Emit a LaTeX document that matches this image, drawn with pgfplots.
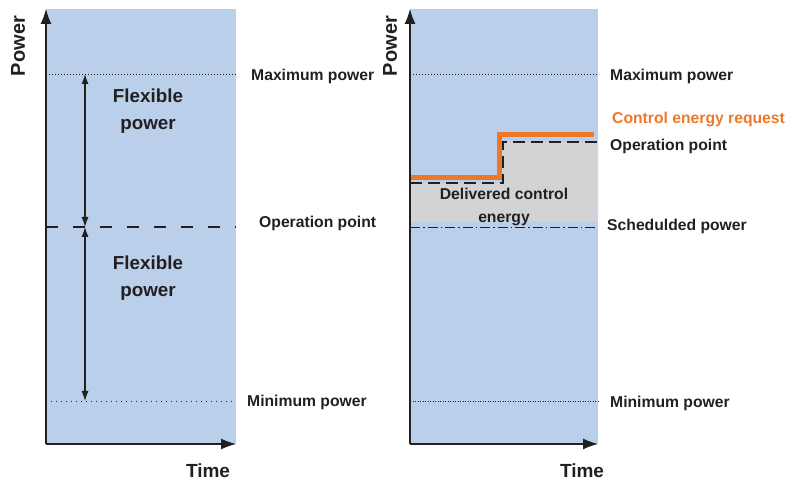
\documentclass[border=0pt]{standalone}
\usepackage{fontspec}
\setmainfont{Liberation Sans}
\usepackage{pgfplots}
\pgfplotsset{compat=1.18}
\usetikzlibrary{arrows.meta}
\definecolor{bgblue}{RGB}{185,207,234}
\definecolor{areagray}{RGB}{210,211,213}
\definecolor{reqorange}{RGB}{238,120,40}
\definecolor{txt}{RGB}{35,31,32}
\tikzset{
  lab/.style={font=\fontsize{15.7}{18}\selectfont\bfseries, text=txt, inner sep=0pt},
  bigtip/.tip={Latex[length=15pt,width=11pt]},
}
\pgfplotsset{
  panel/.style={
    scale only axis, width=190pt, height=435pt,
    xmin=0, xmax=190, ymin=0, ymax=435,
    axis lines*=left,
    axis line style={draw=none},
    xtick=\empty, ytick=\empty,
    axis background/.style={fill=bgblue},
    clip=false,
  },
}
\begin{document}
\begin{tikzpicture}[x=1pt,y=1pt]
\path[use as bounding box] (0,0) rectangle (789,481);
% ---------------- left panel
\begin{axis}[panel, at={(46pt,37pt)}, anchor=south west]
\addplot[txt, line width=0.6pt, dash pattern=on 1pt off 2pt] coordinates {(0,370) (190,370)};
\addplot[txt, line width=0.6pt, dash pattern=on 1pt off 4pt] coordinates {(0,43) (190,43)};
\addplot[txt, line width=2pt, dash pattern=on 12pt off 15pt] coordinates {(0,217) (190,217)};
\addplot[txt, line width=1.1pt, {Latex[length=10pt,width=7pt]}-{Latex[length=10pt,width=7pt]}] coordinates {(39,217) (39,370)};
\addplot[txt, line width=1.1pt, {Latex[length=10pt,width=7pt]}-{Latex[length=10pt,width=7pt]}] coordinates {(39,43) (39,217)};
\draw[txt, line width=1.2pt, -bigtip] (rel axis cs:0,0) -- (rel axis cs:1,0);
\draw[txt, line width=1.2pt, -bigtip] (rel axis cs:0,0) -- (rel axis cs:0,1);
\node[lab, font=\fontsize{18.8}{27}\selectfont\bfseries, align=center] at (axis cs:102,333) {Flexible\\power};
\node[lab, font=\fontsize{18.8}{27}\selectfont\bfseries, align=center] at (axis cs:102,166) {Flexible\\power};
\node[lab, anchor=west] at (axis cs:205,368) {Maximum power};
\node[lab, anchor=west] at (axis cs:213,221) {Operation point};
\node[lab, anchor=west] at (axis cs:201,42) {Minimum power};
\node[lab, font=\fontsize{20}{24}\selectfont\bfseries, rotate=90] at (axis cs:-28,398) {Power};
\node[lab, font=\fontsize{19}{24}\selectfont\bfseries] at (axis cs:162,-27) {Time};
\end{axis}
% ---------------- right panel
\begin{axis}[panel, at={(410pt,37pt)}, anchor=south west, width=188pt, xmax=188]
\addplot[fill=areagray, draw=none] coordinates {(0,222) (0,261) (93,261) (93,302) (188,302) (188,222)} -- cycle;
\addplot[txt, line width=0.6pt, dash pattern=on 1pt off 2pt] coordinates {(0,370) (188,370)};
\addplot[txt, line width=0.6pt, dash pattern=on 1pt off 1.5pt] coordinates {(0,43) (188,43)};
\addplot[txt, line width=0.6pt, dash pattern=on 10pt off 3pt on 1.5pt off 3pt] coordinates {(0,217) (188,217)};
\addplot[txt, line width=2pt, dash pattern=on 12pt off 6pt] coordinates {(0,261) (93,261) (93,302) (188,302)};
\addplot[reqorange, line width=5pt] coordinates {(0,266) (89,266) (89,309) (184,309)};
\draw[txt, line width=1.2pt, -bigtip] (rel axis cs:0,0) -- (rel axis cs:1,0);
\draw[txt, line width=1.2pt, -bigtip] (rel axis cs:0,0) -- (rel axis cs:0,1);
\node[lab, font=\fontsize{15.7}{23}\selectfont\bfseries, align=center] at (axis cs:94,237) {Delivered control\\energy};
\node[lab, anchor=west] at (axis cs:200,368) {Maximum power};
\node[lab, anchor=west, text=reqorange] at (axis cs:202,325) {Control energy request};
\node[lab, anchor=west] at (axis cs:200,298) {Operation point};
\node[lab, anchor=west] at (axis cs:197,218) {Schedulded power};
\node[lab, anchor=west] at (axis cs:200,41) {Minimum power};
\node[lab, font=\fontsize{20}{24}\selectfont\bfseries, rotate=90] at (axis cs:-20,398) {Power};
\node[lab, font=\fontsize{19}{24}\selectfont\bfseries] at (axis cs:172,-27) {Time};
\end{axis}
\end{tikzpicture}
\end{document}
